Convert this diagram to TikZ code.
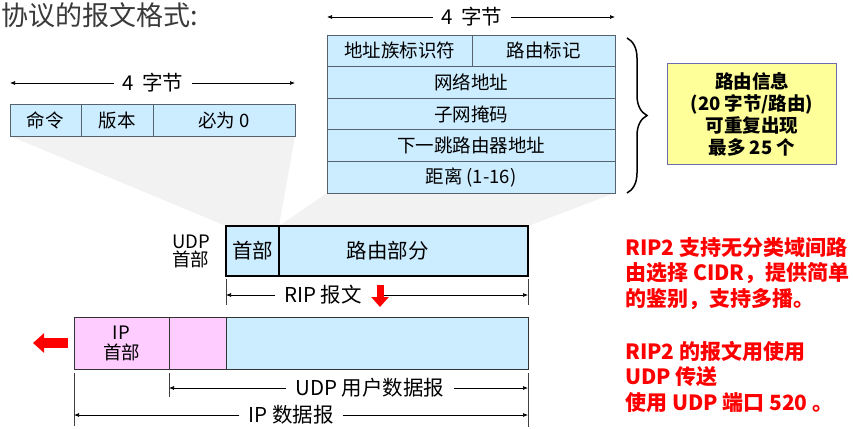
\documentclass[tikz,border=0pt]{standalone}
\usepackage{fontspec}
\setmainfont{Noto Sans CJK SC}
\usetikzlibrary{arrows.meta, positioning, decorations.pathreplacing, backgrounds}
\definecolor{cellblue}{HTML}{CCECFF}
\definecolor{cellpink}{HTML}{FFCCFF}
\definecolor{shadowgray}{HTML}{F2F2F2}
\definecolor{noteyellow}{HTML}{FFFF99}
\definecolor{noteedge}{HTML}{6B6BAE}
\definecolor{celledge}{HTML}{56636E}
\definecolor{titlegray}{HTML}{3A3A3A}
\tikzset{
  headline/.style={anchor=west,inner sep=0pt,text=titlegray,font=\fontsize{27}{29}\selectfont},
  field/.style={rectangle,draw=celledge,fill=cellblue,line width=0.8pt,inner sep=0pt,outer sep=0pt,anchor=north west,font=\fontsize{18.5}{20}\selectfont},
  row/.style={minimum width=288pt,minimum height=31.6pt},
  seg/.style={rectangle,draw=black,fill=cellblue,line width=1.8pt,inner sep=0pt,outer sep=0pt,anchor=north west,minimum height=50pt,font=\fontsize{20.5}{22}\selectfont},
  ippart/.style={rectangle,draw=black!80,line width=1pt,inner sep=0pt,outer sep=0pt,anchor=north west,minimum height=52pt,align=center,font=\fontsize{18.5}{20}\selectfont},
  sidelabel/.style={align=center,inner sep=0pt,font=\fontsize{18.5}{18}\selectfont},
  dimlabel/.style={inner xsep=9pt,inner ysep=0pt,font=\fontsize{20.5}{22}\selectfont},
  dim/.style={draw,line width=0.7pt,-{Latex[length=5pt,width=4pt]}},
  tick/.style={draw=black!75,line width=0.6pt},
  fatarrow/.style={draw=red},
  brace/.style={decorate,decoration={brace,amplitude=20pt},line width=1.5pt},
  info/.style={rectangle,draw=noteedge,fill=noteyellow,line width=1pt,anchor=north west,minimum width=169pt,minimum height=101pt,align=center,font=\fontsize{18.5}{22}\selectfont\bfseries},
  note/.style={anchor=north west,inner sep=0pt,align=left,text=red,font=\fontsize{21}{25.5}\selectfont\bfseries}
}
\begin{document}
\begin{tikzpicture}[x=1pt,y=-1pt]
\useasboundingbox (0,0) rectangle (853,428);
\node[headline] (title) at (1,15) {协议的报文格式:};

% RIP header fields
\node[field, minimum width=71pt, minimum height=32pt] (cmd) at (10,104) {命令};
\node[field, minimum width=72pt, minimum height=32pt, right=0pt of cmd] (ver) {版本};
\node[field, minimum width=142pt, minimum height=32pt, right=0pt of ver] (zero) {必为 0};
\node[dimlabel] (lbytes) at (153,83) {4\ \,字节};
\draw[dim] (lbytes.west) -- (lbytes.west -| cmd.west);
\draw[dim] (lbytes.east) -- (lbytes.east -| zero.east);

% route entry
\node[field, minimum width=145pt, minimum height=31.6pt] (afi) at (327,35) {地址族标识符};
\node[field, minimum width=143pt, minimum height=31.6pt, right=0pt of afi] (tag) {路由标记};
\node[field, row, below=0pt of afi.south west, anchor=north west] (net) {网络地址};
\node[field, row, below=0pt of net] (mask) {子网掩码};
\node[field, row, below=0pt of mask] (hop) {下一跳路由器地址};
\node[field, row, below=0pt of hop] (dist) {距离 (1-16)};
\node[dimlabel] (rbytes) at (472,17) {4\ \,字节};
\draw[dim] (rbytes.west) -- (rbytes.west -| afi.west);
\draw[dim] (rbytes.east) -- (rbytes.east -| tag.east);

\coordinate (brtop) at ([shift={(12pt,-3pt)}]tag.north east);
\coordinate (brbot) at ([xshift=12pt]dist.south east);
\draw[brace] (brtop) -- (brbot);
\node[info] (info) at (667,63) {路由信息\\(20 字节/路由)\\可重复出现\\最多 25 个};

% UDP datagram
\node[seg, minimum width=53pt] (udphdr) at (226,226) {首部};
\node[seg, minimum width=249pt, right=0pt of udphdr] (route) {路由部分\hspace*{32pt}};
\node[sidelabel, left=16pt of udphdr] (udpside) {UDP\\首部};

\draw[tick] ([yshift=-3pt]udphdr.south west) -- ++(0,26);
\draw[tick] ([yshift=-3pt]route.south east) -- ++(0,26);
\node[dimlabel] (riplbl) at (323,295) {RIP 报文};
\coordinate (dntop) at (380,285);
\draw[dim] (riplbl.west) -- (riplbl.west -| udphdr.west);
\draw[dim] (dntop |- riplbl.east) -- (riplbl.east -| route.east);
\draw[fatarrow, line width=7pt, -{Triangle[length=10pt,width=17pt]}] (dntop) -- ++(0,22);

% IP datagram
\node[ippart, fill=cellpink, minimum width=95pt] (ipbox) at (74,317) {IP\\首部};
\node[ippart, fill=cellpink, minimum width=57pt, right=0pt of ipbox] (ipudp) {};
\node[ippart, fill=cellblue, minimum width=302pt, right=0pt of ipudp] (ipdata) {};
\coordinate (outtail) at ([xshift=-6pt]ipbox.west);
\draw[fatarrow, line width=10pt, -{Triangle[length=11pt,width=19pt]}] (outtail) -- ++(-35,0);

\draw[tick] ([yshift=-4pt]ipbox.south west) -- ++(0,53);
\draw[tick] ([yshift=-4pt]ipudp.south west) -- ++(0,24);
\draw[tick] ([yshift=-4pt]ipdata.south east) -- ++(0,54);
\node[dimlabel] (udplbl) at (370,388) {UDP 用户数据报};
\draw[dim] (udplbl.west) -- (udplbl.west -| ipudp.west);
\draw[dim] (udplbl.east) -- (udplbl.east -| ipdata.east);
\node[dimlabel] (iplbl) at (291,415) {IP 数据报};
\draw[dim] (iplbl.west) -- (iplbl.west -| ipbox.west);
\draw[dim] (iplbl.east) -- (iplbl.east -| ipdata.east);

% shadows
\begin{scope}[on background layer]
\fill[shadowgray] (cmd.south west) -- (zero.south east) -- (udphdr.north east) -- (udphdr.north west) -- cycle;
\fill[shadowgray] (dist.south west) -- (dist.south east) -- (route.north east) -- (udphdr.north east) -- cycle;
\end{scope}

\node[note] (rip2) at (625,237) {RIP2 支持无分类域间路\\由选择 CIDR，提供简单\\的鉴别，支持多播。\\[27.5pt]RIP2 的报文用使用\\UDP 传送\\使用 UDP 端口 520 。};
\end{tikzpicture}
\end{document}
